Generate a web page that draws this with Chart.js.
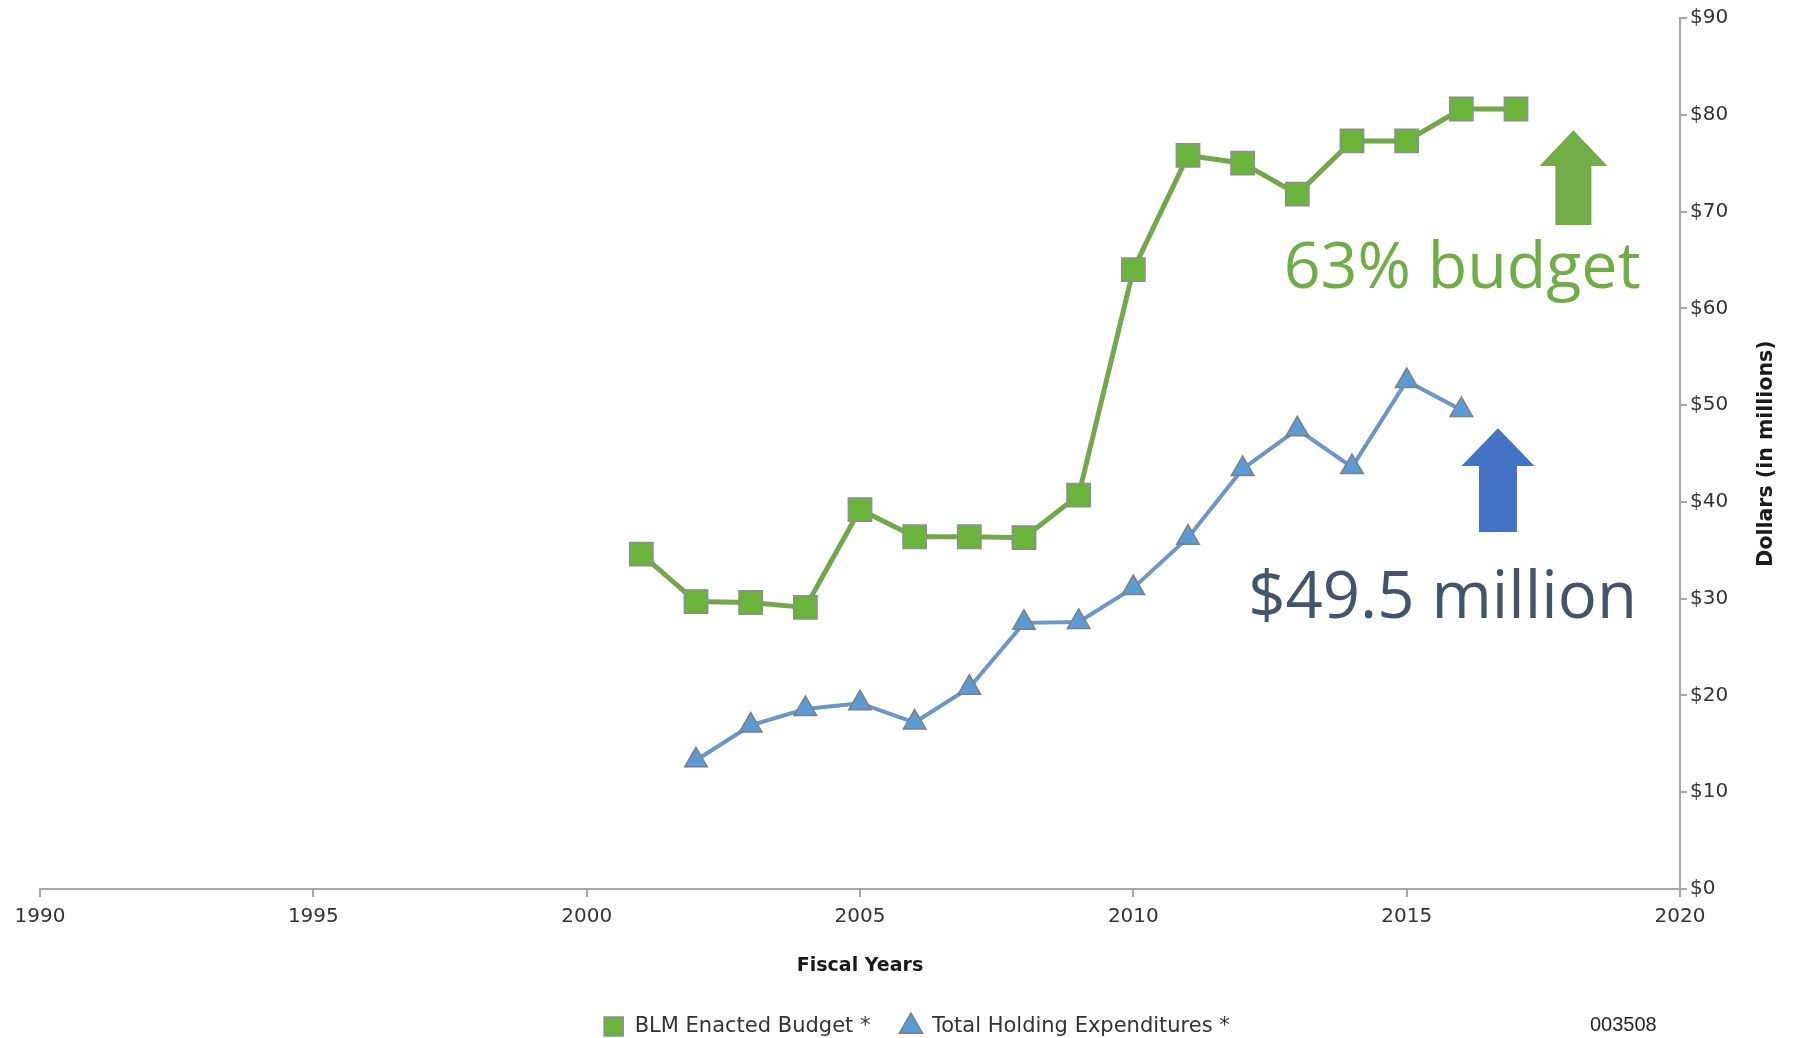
<!DOCTYPE html>
<html>
<head>
<meta charset="utf-8">
<script src="https://cdn.jsdelivr.net/npm/chart.js@4.4.1/dist/chart.umd.min.js"></script>
<style>
  html, body { margin: 0; padding: 0; background: #fff; }
  #wrap { width: 1793px; height: 1038px; position: relative; }
</style>
</head>
<body>
<div id="wrap"><canvas id="chart"></canvas></div>
<script>
// values (dollars in millions)
const budgetYears = [2001, 2002, 2003, 2004, 2005, 2006, 2007, 2008, 2009, 2010, 2011, 2012, 2013, 2014, 2015, 2016, 2017];
const budgetValues = [34.6, 29.7, 29.6, 29.1, 39.2, 36.4, 36.4, 36.3, 40.7, 64.0, 75.8, 75.0, 71.8, 77.3, 77.3, 80.6, 80.6];

const holdingYears = [2002, 2003, 2004, 2005, 2006, 2007, 2008, 2009, 2010, 2011, 2012, 2013, 2014, 2015, 2016];
const holdingValues = [13.3, 16.9, 18.6, 19.2, 17.2, 20.8, 27.5, 27.6, 31.1, 36.3, 43.4, 47.5, 43.6, 52.5, 49.5];

const seriesNames = ['BLM Enacted Budget *', 'Total Holding Expenditures *'];
const yearTicks = [1990, 1995, 2000, 2005, 2010, 2015, 2020];
const dollarTicks = [0, 10, 20, 30, 40, 50, 60, 70, 80, 90];

const axisGray = '#A6A6A6';
const tickFont = { family: 'DejaVu Sans', size: 20 };

function pairs(xs, ys) {
  return xs.map((x, i) => ({ x: x, y: ys[i] }));
}

// big text sized to a given width
function fitText(ctx, text, family, weight, width) {
  ctx.font = weight + ' 100px "' + family + '"';
  const w = ctx.measureText(text).width;
  return 100 * width / w;
}

function upArrow(ctx, cx, top, neck, bottom, headW, shaftW, color) {
  ctx.beginPath();
  ctx.moveTo(cx, top);
  ctx.lineTo(cx + headW / 2, neck);
  ctx.lineTo(cx + shaftW / 2, neck);
  ctx.lineTo(cx + shaftW / 2, bottom);
  ctx.lineTo(cx - shaftW / 2, bottom);
  ctx.lineTo(cx - shaftW / 2, neck);
  ctx.lineTo(cx - headW / 2, neck);
  ctx.closePath();
  ctx.fillStyle = color;
  ctx.fill();
}

// arrows, callouts, right axis title and the figure number
const notes = {
  id: 'notes',
  afterDraw(chart) {
    const ctx = chart.ctx;
    const x = chart.scales.x;
    const y = chart.scales.y;
    ctx.save();

    upArrow(ctx, x.getPixelForValue(2018.05), y.getPixelForValue(78.4), y.getPixelForValue(74.7),
      y.getPixelForValue(68.6), 68, 36, '#70AD47');
    upArrow(ctx, x.getPixelForValue(2016.67), y.getPixelForValue(47.6), y.getPixelForValue(43.7),
      y.getPixelForValue(36.9), 73, 38, '#4472C4');

    ctx.textBaseline = 'alphabetic';
    ctx.textAlign = 'left';
    let size = fitText(ctx, '63% budget', 'Open Sans', 'normal', 357);
    ctx.font = size + 'px "Open Sans"';
    ctx.fillStyle = '#70AD47';
    ctx.fillText('63% budget', x.getPixelForValue(2012.75), y.getPixelForValue(62.1));

    size = fitText(ctx, '$49.5 million', 'Open Sans', 'normal', 389);
    ctx.font = size + 'px "Open Sans"';
    ctx.fillStyle = '#44546A';
    ctx.fillText('$49.5 million', x.getPixelForValue(2012.1), y.getPixelForValue(28.0));

    // y axis title reads bottom to top
    ctx.translate(1767, (chart.chartArea.top + chart.chartArea.bottom) / 2);
    ctx.rotate(-Math.PI / 2);
    ctx.textAlign = 'center';
    ctx.textBaseline = 'middle';
    ctx.font = 'bold 20.5px "DejaVu Sans"';
    ctx.fillStyle = '#1a1a1a';
    ctx.fillText('Dollars (in millions)', 0, 0);
    ctx.setTransform(1, 0, 0, 1, 0, 0);

    ctx.font = '20px "Liberation Sans"';
    ctx.fillStyle = '#262626';
    ctx.textAlign = 'left';
    ctx.textBaseline = 'middle';
    ctx.fillText('003508', 1590, 1025);
    ctx.restore();
  }
};

// wide gaps between legend items but a short legend box
const legendLow = {
  id: 'legendLow',
  beforeInit(chart) {
    if (!chart.legend) return;
    const fit = chart.legend.fit;
    chart.legend.fit = function () {
      fit.call(this);
      this.height = 52;
    };
  }
};

new Chart(document.getElementById('chart'), {
  type: 'line',
  data: {
    datasets: [{
      label: seriesNames[0],
      data: pairs(budgetYears, budgetValues),
      borderColor: '#73A84A',
      borderWidth: 5,
      backgroundColor: '#6AB43C',
      pointStyle: 'rect',
      pointRadius: 16.5,
      pointBorderColor: '#8E8E8E',
      pointBorderWidth: 1.5,
      pointBackgroundColor: '#6AB43C',
      tension: 0
    }, {
      label: seriesNames[1],
      data: pairs(holdingYears, holdingValues),
      borderColor: '#6A97C8',
      borderWidth: 4,
      backgroundColor: '#5B9BD5',
      pointStyle: 'triangle',
      pointRadius: 13,
      pointBorderColor: '#7F7F7F',
      pointBorderWidth: 1.5,
      pointBackgroundColor: '#5B9BD5',
      tension: 0
    }]
  },
  options: {
    responsive: true,
    maintainAspectRatio: false,
    animation: false,
    devicePixelRatio: 1,
    layout: { padding: { left: 40, top: 17, right: 0, bottom: 0 } },
    plugins: {
      legend: {
        position: 'bottom',
        labels: {
          usePointStyle: true,
          boxHeight: 19,
          padding: 30,
          color: '#333333',
          font: { family: 'DejaVu Sans', size: 21 }
        }
      },
      tooltip: { enabled: false }
    },
    scales: {
      x: {
        type: 'linear',
        min: 1990,
        max: 2020,
        afterBuildTicks: s => { s.ticks = yearTicks.map(v => ({ value: v })); },
        afterFit: s => { s.height = 97; },
        ticks: {
          color: '#333333',
          font: tickFont,
          padding: 8,
          maxRotation: 0,
          callback: v => String(v)
        },
        grid: { drawOnChartArea: false, tickLength: 8, color: axisGray, lineWidth: 2 },
        border: { color: axisGray, width: 2 },
        title: {
          display: true,
          text: 'Fiscal Years',
          color: '#1a1a1a',
          font: { family: 'DejaVu Sans', size: 19, weight: 'bold' },
          padding: { top: 0, bottom: 9 }
        }
      },
      y: {
        position: 'right',
        min: 0,
        max: 90,
        afterBuildTicks: s => { s.ticks = dollarTicks.map(v => ({ value: v })); },
        afterFit: s => { s.width = 113; },
        ticks: {
          color: '#333333',
          font: tickFont,
          padding: 3,
          callback: v => '$' + v
        },
        grid: { drawOnChartArea: false, tickLength: 7, color: axisGray, lineWidth: 2 },
        border: { color: axisGray, width: 2 }
      }
    }
  },
  plugins: [notes, legendLow]
});
</script>
</body>
</html>
